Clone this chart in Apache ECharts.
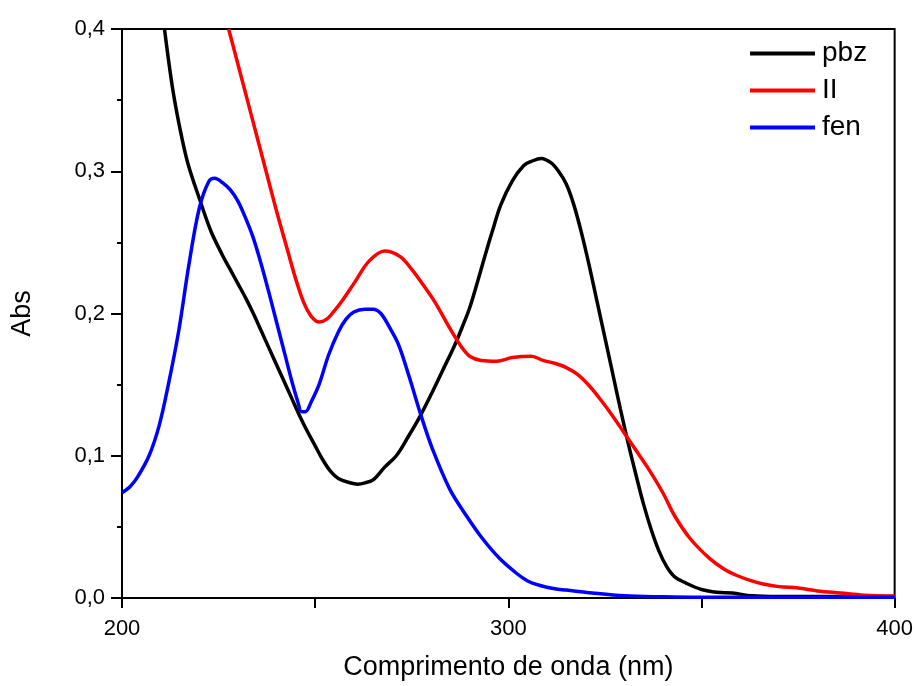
<!DOCTYPE html>
<html>
<head>
<meta charset="utf-8">
<script src="https://cdn.jsdelivr.net/npm/echarts@6/dist/echarts.min.js"></script>
<style>
html,body{margin:0;padding:0;background:#fff;}
#chart{width:916px;height:686px;}
</style>
</head>
<body>
<div id="chart"></div>
<script>
// pbz (black)
var pbzNm = [211, 213, 215, 217, 220, 223, 226, 228, 230, 232, 234, 236, 238, 240, 242, 244, 246, 248, 250, 252, 254, 256, 259, 261, 263, 265, 268, 271, 274, 277, 280, 283, 286, 288, 290, 292, 294, 296, 298, 301, 304, 306, 308.5, 311, 313, 315, 317, 319, 321, 323, 325, 327, 329, 331, 333, 335, 337, 339, 341, 343, 346, 350, 354, 358, 363, 370, 380, 390, 400];
var pbzAbs = [0.400, 0.360, 0.330, 0.306, 0.281, 0.258, 0.241, 0.231, 0.221, 0.211, 0.200, 0.188, 0.176, 0.164, 0.152, 0.140, 0.128, 0.117, 0.107, 0.097, 0.089, 0.084, 0.081, 0.080, 0.081, 0.083, 0.092, 0.100, 0.113, 0.127, 0.143, 0.160, 0.177, 0.190, 0.204, 0.222, 0.241, 0.259, 0.276, 0.293, 0.304, 0.307, 0.309, 0.306, 0.300, 0.291, 0.276, 0.256, 0.233, 0.208, 0.183, 0.158, 0.133, 0.109, 0.087, 0.066, 0.048, 0.033, 0.022, 0.015, 0.0105, 0.006, 0.004, 0.0035, 0.0015, 0.001, 0.001, 0.001, 0.001];
// II (red)
var iiNm = [227.6, 231, 234, 237, 240, 243, 245, 247, 249, 251, 253, 255, 257, 260, 264, 268, 272, 275, 278, 281, 285, 288, 290, 293, 297, 301, 306, 309, 312, 315, 318, 321, 324, 327, 330, 333, 336, 340, 343, 347, 352, 356, 359, 363, 366, 370, 375, 380, 386, 392, 400];
var iiAbs = [0.400, 0.365, 0.334, 0.303, 0.272, 0.243, 0.224, 0.208, 0.198, 0.194, 0.196, 0.202, 0.209, 0.221, 0.237, 0.244, 0.240, 0.231, 0.220, 0.208, 0.189, 0.176, 0.170, 0.167, 0.1665, 0.169, 0.170, 0.167, 0.165, 0.162, 0.157, 0.149, 0.139, 0.128, 0.116, 0.104, 0.092, 0.074, 0.058, 0.042, 0.028, 0.020, 0.016, 0.012, 0.0098, 0.008, 0.007, 0.005, 0.0035, 0.002, 0.0014];
// fen (blue)
var fenNm = [200, 202, 204, 207, 209.6, 212, 214.7, 217.3, 220, 222.5, 224, 226, 228, 230, 232, 234, 236, 238, 240, 242, 244, 245.5, 246.5, 247.5, 249, 251, 253.5, 256, 258, 260, 262.8, 265, 267, 269.3, 271.6, 274.4, 277.5, 280.4, 284.8, 289.1, 293.3, 297.7, 302.1, 305, 308, 312, 315, 321.7, 330, 340, 350, 360, 380, 400];
var fenAbs = [0.074, 0.078, 0.085, 0.100, 0.121, 0.150, 0.188, 0.234, 0.274, 0.293, 0.295, 0.292, 0.287, 0.279, 0.267, 0.253, 0.235, 0.215, 0.194, 0.173, 0.152, 0.138, 0.131, 0.131, 0.138, 0.150, 0.171, 0.187, 0.196, 0.201, 0.203, 0.203, 0.200, 0.190, 0.178, 0.155, 0.1275, 0.1045, 0.0767, 0.058, 0.0418, 0.0279, 0.0174, 0.012, 0.009, 0.0065, 0.0056, 0.0035, 0.0015, 0.0008, 0.0005, 0.0005, 0.0005, 0.0005];

var seriesNames = ['pbz', 'II', 'fen'];
var seriesColors = ['#000000', '#ff0000', '#0000ff'];

function pairs(xs, ys) { return xs.map(function (x, i) { return [x, ys[i]]; }); }
var allData = [pairs(pbzNm, pbzAbs), pairs(iiNm, iiAbs), pairs(fenNm, fenAbs)];

var FONT = '"Liberation Sans", Arial, sans-serif';
var chart = echarts.init(document.getElementById('chart'), null, {renderer: 'canvas'});
chart.setOption({
  animation: false,
  backgroundColor: '#ffffff',
  grid: {left: 122, right: 20, top: 29, bottom: 83, show: true, borderColor: '#000', borderWidth: 2, backgroundColor: 'transparent', containLabel: false},
  legend: {
    orient: 'vertical', left: 750, top: 39, padding: 0,
    itemWidth: 65, itemHeight: 4, itemGap: 8, icon: 'rect',
    textStyle: {fontFamily: FONT, fontSize: 28, color: '#000', lineHeight: 29, padding: [0, 0, 0, 2]},
    data: seriesNames
  },
  xAxis: {
    type: 'value', min: 200, max: 400, interval: 100,
    name: 'Comprimento de onda (nm)', nameLocation: 'middle', nameGap: 56,
    nameTextStyle: {fontFamily: FONT, fontSize: 27, color: '#000'},
    axisLine: {show: true, lineStyle: {color: '#000', width: 2}},
    axisTick: {show: true, length: 10, lineStyle: {color: '#000', width: 2}},
    minorTick: {show: true, splitNumber: 2, length: 10, lineStyle: {color: '#000', width: 2}},
    axisLabel: {fontFamily: FONT, fontSize: 22, color: '#000', margin: 20},
    splitLine: {show: false}
  },
  yAxis: {
    type: 'value', min: 0, max: 0.4, interval: 0.1,
    name: 'Abs', nameLocation: 'middle', nameGap: 86,
    nameTextStyle: {fontFamily: FONT, fontSize: 27, color: '#000'},
    axisLine: {show: true, lineStyle: {color: '#000', width: 2}},
    axisTick: {show: true, length: 11, lineStyle: {color: '#000', width: 2}},
    minorTick: {show: true, splitNumber: 2, length: 5, lineStyle: {color: '#000', width: 2}},
    axisLabel: {fontFamily: FONT, fontSize: 22, color: '#000', margin: 17,
      formatter: function (v) { return v.toFixed(1).replace('.', ','); }},
    splitLine: {show: false}
  },
  series: seriesNames.map(function (n, i) {
    return {
      name: n, type: 'line', data: allData[i], showSymbol: false, symbol: 'none',
      smooth: 0.35, clip: true,
      lineStyle: {color: seriesColors[i], width: 3.5},
      itemStyle: {color: seriesColors[i]}
    };
  })
});
</script>
</body>
</html>
